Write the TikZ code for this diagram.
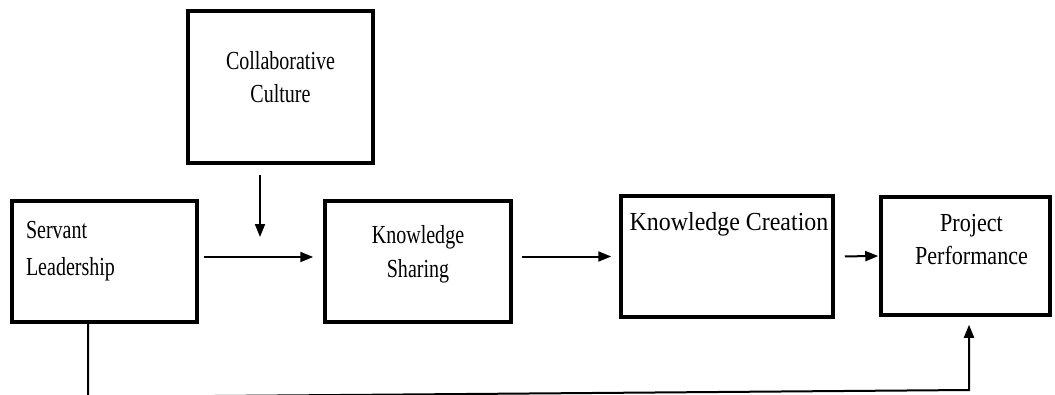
\documentclass[tikz,border=0pt]{standalone}
\usepackage{fontspec}
\setmainfont{Liberation Serif}
\newfontfamily\fa{Liberation Serif}[FakeStretch=0.77]
\newfontfamily\fb{Liberation Serif}[FakeStretch=0.92]
\newfontfamily\fc{Liberation Serif}[FakeStretch=0.85]
\usetikzlibrary{arrows.meta}
\newcommand\bt[5]{\parbox[c][#2][t]{#1}{\vspace*{#3}#4#5}}
\tikzset{
  box/.style={draw=black, line width=3.5pt, inner sep=0pt},
  arr/.style={draw=black, line width=2pt, -{Triangle[length=13pt,width=10pt]}},
}
\begin{document}
\begin{tikzpicture}[x=1pt,y=-1pt]
\useasboundingbox (0,0) rectangle (1055,394);
\node[box] (SL) at (104.5,261.5) {\bt{185pt}{121pt}{20pt}{\fa\fontsize{26}{37}\selectfont\raggedright\leftskip=14pt}{Servant\\Leadership}};
\node[box] (CC) at (280.5,87) {\bt{185pt}{152pt}{40pt}{\fa\fontsize{26}{33}\selectfont\centering}{Collaborative\\Culture}};
\node[box] (KS) at (418,261.5) {\bt{186pt}{121pt}{24pt}{\fa\fontsize{26}{34}\selectfont\centering}{Knowledge\\Sharing}};
\node[box] (KC) at (727,256.5) {\bt{212pt}{121pt}{16pt}{\fb\fontsize{26}{33}\selectfont\centering\leftskip=4pt plus 1fil}{Knowledge Creation}};
\node[box] (PP) at (965.5,256) {\bt{169pt}{118pt}{17pt}{\fc\fontsize{26}{33}\selectfont\centering\leftskip=12pt plus 1fil}{Project\\Performance}};
\coordinate (mod) at (260,237);
\coordinate (c1) at (88,397);
\coordinate (c2) at (969,390);
\draw[arr, shorten <=10pt] (CC.south -| mod) -- (mod);
\draw[arr, shorten <=5pt, shorten >=10pt] ([yshift=4.5pt]SL.east) -- ([yshift=4.5pt]KS.west);
\draw[arr, shorten <=9pt, shorten >=8pt] (KS.east |- KC.west) -- (KC.west);
\draw[arr, shorten <=10pt, shorten >=1pt] (KC.east) -- (PP.west);
\draw[arr, line join=miter, shorten >=8pt] (SL.south -| c1) -- (c1) -- (c2) -- (PP.south -| c2);
\end{tikzpicture}
\end{document}
